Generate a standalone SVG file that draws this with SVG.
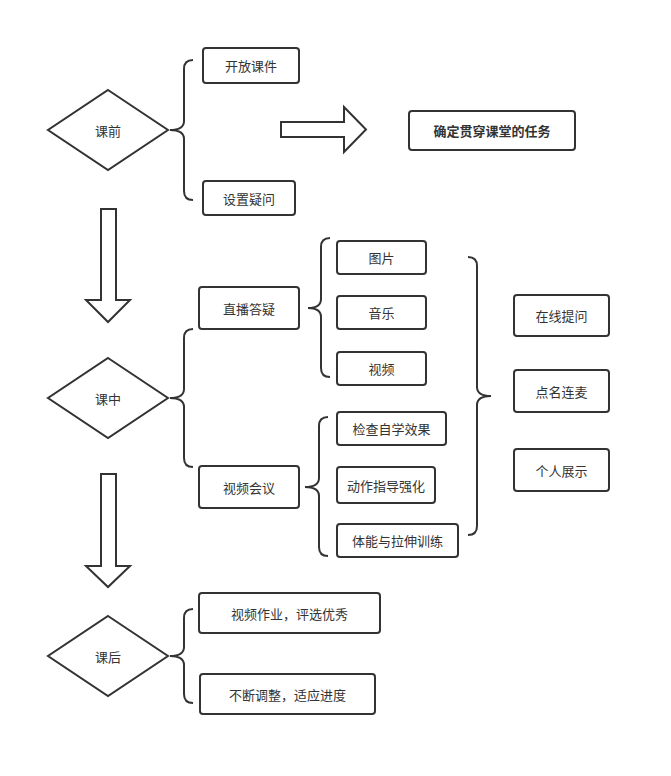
<svg xmlns="http://www.w3.org/2000/svg" width="671" height="776" viewBox="0 0 671 776">
<style>
.box{fill:#fff;stroke:#333;stroke-width:2}
.dia{fill:#fff;stroke:#333;stroke-width:2}
.br{fill:none;stroke:#333;stroke-width:2}
.arr{fill:#fff;stroke:#333;stroke-width:2;stroke-linejoin:miter}
text{font-family:"Noto Sans CJK SC","Noto Sans",sans-serif;font-size:13px;fill:#333;text-anchor:middle;dominant-baseline:central}
.b{font-weight:bold}
</style>
<rect width="671" height="776" fill="#fff"/>
<g id="connectors">
<path class="br" d="M193 60 Q184 60 184 69 L184 121 Q184 130 170 130 Q184 130 184 139 L184 191 Q184 200 193 200"/>
<path class="br" d="M193 329 Q184 329 184 338 L184 389 Q184 398 170 398 Q184 398 184 407 L184 458 Q184 467 193 467"/>
<path class="br" d="M193 609 Q184 609 184 618 L184 647 Q184 656 170 656 Q184 656 184 665 L184 694 Q184 703 193 703"/>
<path class="br" d="M330 238 Q321 238 321 247 L321 299 Q321 308 308 308 Q321 308 321 317 L321 368 Q321 377 330 377"/>
<path class="br" d="M328 417 Q319 417 319 426 L319 478 Q319 487 305 487 Q319 487 319 496 L319 547 Q319 556 328 556"/>
<path class="br" d="M468 257 Q477 257 477 266 L477 387 Q477 396 491 396 Q477 396 477 405 L477 526 Q477 535 468 535"/>
<polygon class="arr" points="281,122 344,122 344,107 366,129.5 344,152 344,137 281,137"/>
<polygon class="arr" points="101,209 116,209 116,300 130,300 108,322 86,300 101,300"/>
<polygon class="arr" points="101,474 116,474 116,566 130,566 108,587 86,566 101,566"/>
</g>
<g id="kq"><polygon class="dia" points="108,90 168,130 108,170 48,130"/><text x="108" y="130">课前</text></g>
<g id="kz"><polygon class="dia" points="108,358 168,398 108,438 48,398"/><text x="108" y="398">课中</text></g>
<g id="kh"><polygon class="dia" points="108,616 168,656 108,696 48,656"/><text x="108" y="656">课后</text></g>
<g id="n1"><rect class="box" x="203" y="48" width="96" height="35" rx="3"/><text x="251" y="65.5">开放课件</text></g>
<g id="n2"><rect class="box" x="203" y="181" width="92" height="34" rx="3"/><text x="249" y="198">设置疑问</text></g>
<g id="n3"><rect class="box" x="409" y="111" width="166" height="39" rx="3"/><text class="b" x="492" y="130.5">确定贯穿课堂的任务</text></g>
<g id="n4"><rect class="box" x="199" y="287" width="100" height="42" rx="3"/><text x="249" y="308">直播答疑</text></g>
<g id="n5"><rect class="box" x="337" y="241" width="89" height="33" rx="3"/><text x="381.5" y="257.5">图片</text></g>
<g id="n6"><rect class="box" x="337" y="296" width="89" height="33" rx="3"/><text x="381.5" y="312.5">音乐</text></g>
<g id="n7"><rect class="box" x="337" y="352" width="89" height="33" rx="3"/><text x="381.5" y="368.5">视频</text></g>
<g id="n8"><rect class="box" x="199" y="466" width="100" height="42" rx="3"/><text x="249" y="487">视频会议</text></g>
<g id="n9"><rect class="box" x="337" y="412" width="109" height="33" rx="3"/><text x="391.5" y="428.5">检查自学效果</text></g>
<g id="n10"><rect class="box" x="337" y="467" width="98" height="36" rx="3"/><text x="386" y="485">动作指导强化</text></g>
<g id="n11"><rect class="box" x="337" y="524" width="121" height="33" rx="3"/><text x="397.5" y="540.5">体能与拉伸训练</text></g>
<g id="n12"><rect class="box" x="514" y="295" width="95" height="41" rx="3"/><text x="561.5" y="315.5">在线提问</text></g>
<g id="n13"><rect class="box" x="514" y="370" width="95" height="42" rx="3"/><text x="561.5" y="391">点名连麦</text></g>
<g id="n14"><rect class="box" x="514" y="449" width="95" height="42" rx="3"/><text x="561.5" y="470">个人展示</text></g>
<g id="n15"><rect class="box" x="199" y="593" width="181" height="40" rx="3"/><text x="289.5" y="613">视频作业，评选优秀</text></g>
<g id="n16"><rect class="box" x="200" y="674" width="175" height="40" rx="3"/><text x="287.5" y="694">不断调整，适应进度</text></g>
</svg>
